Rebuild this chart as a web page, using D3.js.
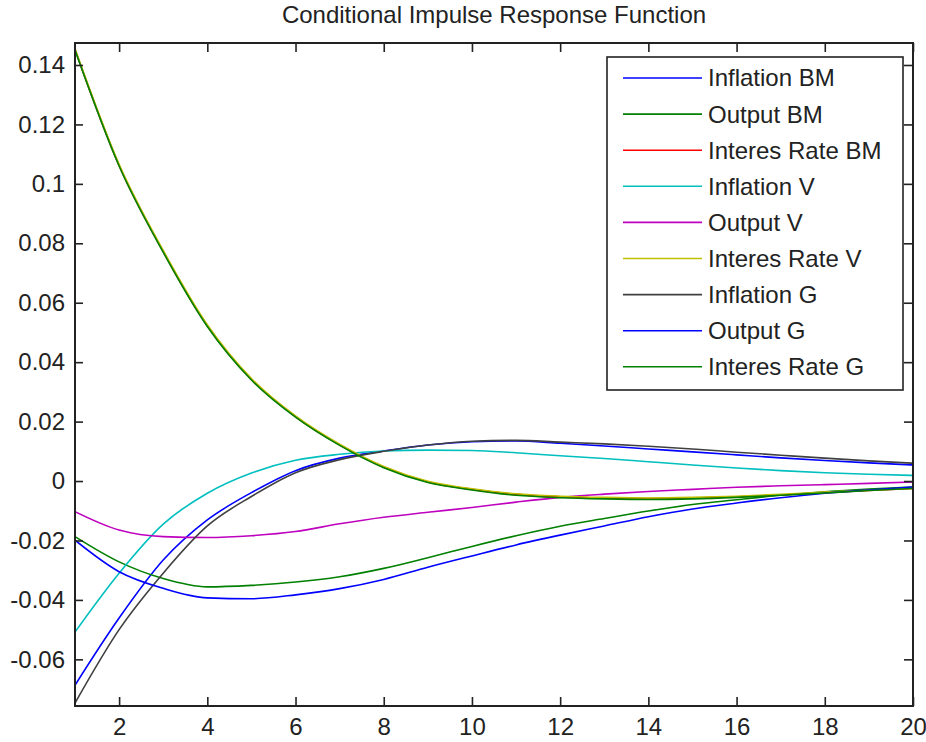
<!DOCTYPE html>
<html>
<head>
<meta charset="utf-8">
<script src="https://cdn.jsdelivr.net/npm/d3@7"></script>
<style>
  body { margin: 0; background: #fff; }
  text { font-family: "Liberation Sans", Arial, Helvetica, sans-serif; fill: #222; }
</style>
</head>
<body>
<div id="chart-area"></div>
<script>
var periods = d3.range(1, 21);

var inflationBM = [-0.0687, -0.0461, -0.0266, -0.0131, -0.0039, 0.0035, 0.0077, 0.0101, 0.0121, 0.0132,
                   0.0135, 0.0127, 0.0118, 0.0108, 0.0098, 0.0088, 0.0078, 0.0069, 0.0061, 0.0054];
var outputBM    = [-0.0187, -0.0272, -0.0328, -0.0356, -0.0351, -0.0340, -0.0322, -0.0294, -0.0258, -0.0220,
                   -0.0184, -0.0152, -0.0126, -0.0101, -0.0079, -0.0063, -0.0048, -0.0036, -0.0027, -0.0020];
var interestBM  = [0.1452, 0.1062, 0.0772, 0.0522, 0.0342, 0.0217, 0.0122, 0.0047, -0.0003, -0.0028,
                   -0.0045, -0.0053, -0.0057, -0.0059, -0.0057, -0.0053, -0.0047, -0.0039, -0.0032, -0.0025];
var inflationV  = [-0.0508, -0.0310, -0.0145, -0.0041, 0.0027, 0.0070, 0.0090, 0.0101, 0.0104, 0.0103,
                   0.0095, 0.0085, 0.0076, 0.0065, 0.0054, 0.0044, 0.0035, 0.0028, 0.0023, 0.0019];
var outputV     = [-0.0103, -0.0165, -0.0187, -0.0190, -0.0184, -0.0170, -0.0144, -0.0122, -0.0105, -0.0089,
                   -0.0071, -0.0055, -0.0044, -0.0035, -0.0028, -0.0021, -0.0016, -0.0012, -0.0008, -0.0003];
var interestV   = [0.1455, 0.1066, 0.0776, 0.0526, 0.0345, 0.0219, 0.0124, 0.0049, -0.0001, -0.0026,
                   -0.0043, -0.0051, -0.0055, -0.0057, -0.0055, -0.0051, -0.0045, -0.0037, -0.0031, -0.0024];
var inflationG  = [-0.0747, -0.0500, -0.0310, -0.0151, -0.0052, 0.0028, 0.0072, 0.0100, 0.0121, 0.0134,
                   0.0137, 0.0131, 0.0125, 0.0117, 0.0108, 0.0097, 0.0087, 0.0077, 0.0068, 0.0060];
var outputG     = [-0.0199, -0.0305, -0.0361, -0.0393, -0.0396, -0.0383, -0.0362, -0.0331, -0.0290, -0.0252,
                   -0.0215, -0.0182, -0.0151, -0.0120, -0.0094, -0.0074, -0.0056, -0.0041, -0.0030, -0.0020];
var interestG   = [0.1450, 0.1060, 0.0770, 0.0520, 0.0340, 0.0215, 0.0120, 0.0045, -0.0005, -0.0030,
                   -0.0048, -0.0056, -0.0060, -0.0062, -0.0060, -0.0055, -0.0048, -0.0040, -0.0032, -0.0025];

var seriesNames  = ["Inflation BM", "Output BM", "Interes Rate BM", "Inflation V", "Output V",
                    "Interes Rate V", "Inflation G", "Output G", "Interes Rate G"];
var seriesValues = [inflationBM, outputBM, interestBM, inflationV, outputV,
                    interestV, inflationG, outputG, interestG];
var seriesColors = ["#0000ff", "#008000", "#ff0000", "#00bfbf", "#bf00bf",
                    "#bfbf00", "#404040", "#0000ff", "#008000"];

var xTicks = [2, 4, 6, 8, 10, 12, 14, 16, 18, 20];
var yTicks = [-0.06, -0.04, -0.02, 0, 0.02, 0.04, 0.06, 0.08, 0.1, 0.12, 0.14];

var margin = { top: 43, right: 13, bottom: 36, left: 75 },
    svgWidth = 926,
    svgHeight = 742,
    width = svgWidth - margin.left - margin.right,
    height = svgHeight - margin.top - margin.bottom;

var svg = d3.select("#chart-area")
            .append("svg")
            .attr("width", svgWidth)
            .attr("height", svgHeight);

var g = svg.append("g")
           .attr("transform", "translate(" + margin.left + "," + margin.top + ")");

var x = d3.scaleLinear().domain([1, 20]).range([0, width]);
var y = d3.scaleLinear().domain([-0.0757, 0.1474]).range([height, 0]);

// title
svg.append("text")
   .attr("x", margin.left + width / 2)
   .attr("y", 23)
   .attr("text-anchor", "middle")
   .style("font-size", "24px")
   .text("Conditional Impulse Response Function");

// curves
var line = d3.line()
             .curve(d3.curveMonotoneX)
             .x(function(d, i) { return x(periods[i]); })
             .y(function(d) { return y(d); });

g.append("clipPath").attr("id", "plot-clip")
 .append("rect").attr("width", width).attr("height", height);

g.append("g").attr("clip-path", "url(#plot-clip)")
 .selectAll("path.curve")
 .data(seriesValues)
 .enter().append("path")
 .attr("class", "curve")
 .attr("d", line)
 .attr("fill", "none")
 .attr("stroke", function(d, i) { return seriesColors[i]; })
 .attr("stroke-width", 1.6);

// axes, ticks inward on all four sides
function styleAxis(sel) {
  sel.select(".domain").remove();
  sel.selectAll(".tick line").attr("stroke", "#222").attr("stroke-width", 1.6);
  sel.selectAll(".tick text").style("font-size", "24px").attr("fill", "#222");
}

g.append("g")
 .attr("transform", "translate(0," + height + ")")
 .call(d3.axisBottom(x).tickValues(xTicks).tickSizeInner(-9).tickPadding(12).tickFormat(d3.format("d")))
 .call(styleAxis);

g.append("g")
 .call(d3.axisTop(x).tickValues(xTicks).tickSizeInner(-9).tickFormat(""))
 .call(styleAxis);

g.append("g")
 .call(d3.axisLeft(y).tickValues(yTicks).tickSizeInner(-8).tickPadding(10)
         .tickFormat(function(d) { return String(+d.toFixed(2)); }))
 .call(styleAxis);

g.append("g")
 .attr("transform", "translate(" + width + ",0)")
 .call(d3.axisRight(y).tickValues(yTicks).tickSizeInner(-9).tickFormat(""))
 .call(styleAxis);

g.append("rect")
 .attr("width", width)
 .attr("height", height)
 .attr("fill", "none")
 .attr("stroke", "#222")
 .attr("stroke-width", 2);

// legend
var legend = svg.append("g").attr("transform", "translate(607,57)");

legend.append("rect")
      .attr("width", 296)
      .attr("height", 333)
      .attr("fill", "#fff")
      .attr("stroke", "#222")
      .attr("stroke-width", 1.6);

var rows = legend.selectAll("g.row")
                 .data(seriesNames)
                 .enter().append("g")
                 .attr("class", "row")
                 .attr("transform", function(d, i) { return "translate(0," + (21 + i * 36.1) + ")"; });

rows.append("line")
    .attr("x1", 16).attr("x2", 95)
    .attr("stroke", function(d, i) { return seriesColors[i]; })
    .attr("stroke-width", 1.6);

rows.append("text")
    .attr("x", 101)
    .attr("dy", "0.35em")
    .style("font-size", "24px")
    .text(function(d) { return d; });
</script>
</body>
</html>
